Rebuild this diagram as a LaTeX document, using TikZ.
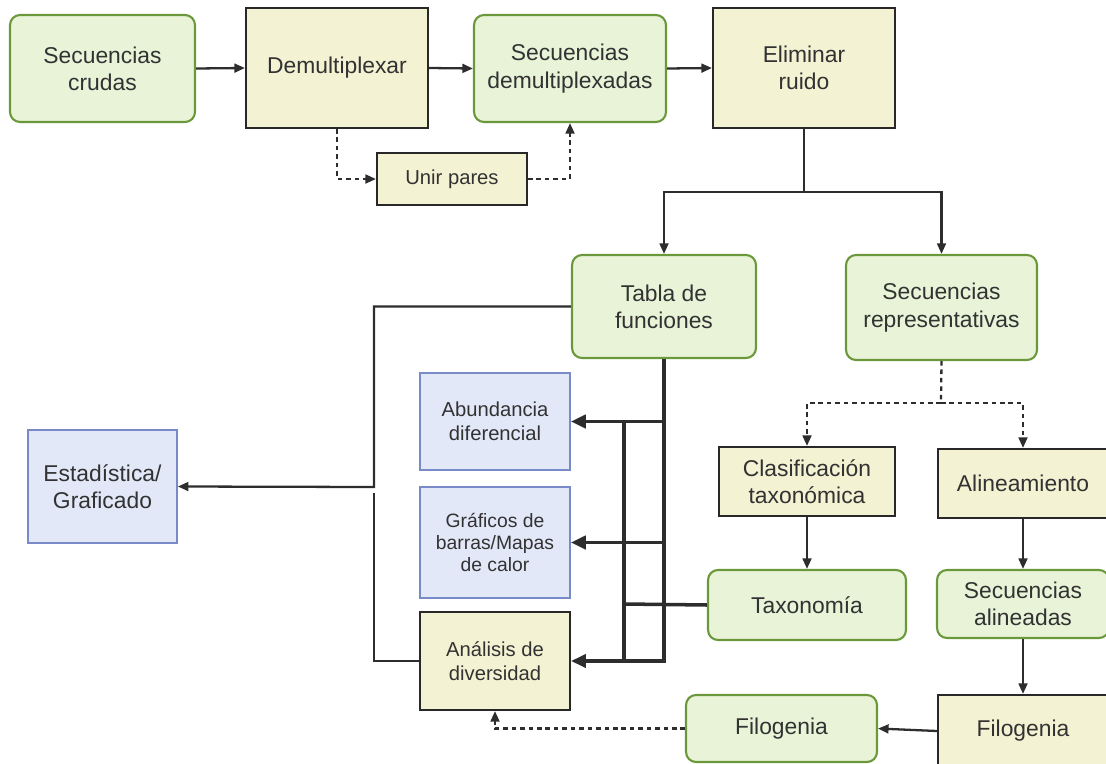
\documentclass[tikz,border=0pt]{standalone}
\usepackage{fontspec}
\setmainfont{Liberation Sans}
\usetikzlibrary{positioning, arrows.meta}
\definecolor{seqfill}{RGB}{232,243,216}
\definecolor{seqedge}{RGB}{106,152,58}
\definecolor{stepfill}{RGB}{243,242,211}
\definecolor{stepedge}{RGB}{40,40,40}
\definecolor{outfill}{RGB}{227,232,248}
\definecolor{outedge}{RGB}{122,138,200}
\definecolor{wire}{RGB}{45,45,45}
\definecolor{ink}{RGB}{50,50,50}
\tikzset{
  sz/.style 2 args={minimum width=#1cm, minimum height=#2cm},
  bigtext/.style={font=\fontsize{13}{15.5}\selectfont},
  smalltext/.style={font=\fontsize{11.5}{13.5}\selectfont},
  seqbox/.style={rectangle, rounded corners=2mm, draw=seqedge, fill=seqfill, line width=1.2pt, align=center, inner sep=2pt, text=ink, bigtext},
  stepbox/.style={rectangle, draw=stepedge, fill=stepfill, line width=1.2pt, align=center, inner sep=2pt, text=ink, bigtext},
  outbox/.style={rectangle, draw=outedge, fill=outfill, line width=1pt, align=center, inner sep=2pt, text=ink, smalltext},
  plain/.style={draw=wire, line width=1.3pt},
  link/.style={plain, -{Triangle[length=6pt,width=5pt]}},
  dashlink/.style={link, dash pattern=on 2.6pt off 2.2pt},
  buslink/.style={draw=wire, line width=2pt},
  busarrow/.style={buslink, -{Triangle[length=8.5pt,width=7.5pt]}},
}
\begin{document}
\begin{tikzpicture}[x=0.02cm, y=-0.02cm]
\useasboundingbox (0,0) rectangle (1106,764);
\clip (0,0) rectangle (1106,764);

% upper row
\node[seqbox, sz={3.7}{2.14}] (crudas) at (102.5,68.5) {Secuencias\\crudas};
\node[stepbox, sz={3.64}{2.4}] (demux) at (337,68) {Demultiplexar};
\node[seqbox, sz={3.84}{2.14}] (demuxseq) at (570,68.5) {Secuencias\\demultiplexadas};
\node[stepbox, sz={3.64}{2.4}] (ruido) at (804,68) {Eliminar\\ruido};
\node[stepbox, smalltext, sz={3.0}{1.04}] (unir) at (452,179) {Unir pares};

% second row
\node[seqbox, sz={3.68}{2.06}] (tabla) at (664,306.5) {Tabla de\\funciones};
\node[seqbox, sz={3.82}{2.1}] (repseq) at (941.5,307.5) {Secuencias\\representativas};

% right side
\node[stepbox, sz={3.52}{1.38}] (clasif) at (807,481.5) {Clasificación\\taxonómica};
\node[stepbox, sz={3.4}{1.38}] (alin) at (1023,483.5) {Alineamiento};
\node[seqbox, sz={3.96}{1.4}] (taxo) at (807,605) {Taxonomía};
\node[seqbox, sz={3.44}{1.36}] (alinseq) at (1023,604) {Secuencias\\alineadas};
\node[stepbox, sz={3.4}{1.44}] (filoarbol) at (1023,731) {Filogenia};
\node[seqbox, sz={3.82}{1.34}] (filo) at (781.5,728.5) {Filogenia};

% left side
\node[outbox, sz={3.0}{1.94}] (abund) at (495,421.5) {Abundancia\\diferencial};
\node[outbox, font=\fontsize{11}{12.4}\selectfont, sz={3.0}{2.22}] (graf) at (495,542.5) {Gráficos de\\barras/Mapas\\de calor};
\node[stepbox, smalltext, sz={3.0}{1.96}] (anal) at (495,661) {Análisis de\\diversidad};
\node[outbox, bigtext, sz={2.98}{2.26}] (estad) at (102.5,486.5) {Estadística/\\Graficado};

\coordinate (split) at (804,192);
\coordinate (repsplit) at (941,403);
\coordinate (merge) at (374,487);
\coordinate (tx) at (624,604);

% connectors
\draw[link] (crudas.east) -- (demux.west);
\draw[link] (demux.east) -- (demuxseq.west);
\draw[link] (demuxseq.east) -- (ruido.west);
\draw[dashlink] (demux.south) |- (unir.west);
\draw[dashlink] (unir.east) -| (demuxseq.south);
\draw[plain] (ruido.south) -- (split);
\draw[link] (split) -| (tabla.north);
\draw[link] (split) -| (repseq.north);
\draw[dashlink, -] (repseq.south) -- (repsplit);
\draw[dashlink] (repsplit) -| (clasif.north);
\draw[dashlink] (repsplit) -| (alin.north);
\draw[link] (clasif.south) -- (taxo.north);
\draw[link] (alin.south) -- (alinseq.north);
\draw[link] (alinseq.south) -- (filoarbol.north);
\draw[link] (filoarbol.west) -- (filo.east);
\draw[dashlink] (filo.west) -| (anal.south);

% tabla de funciones
\draw[link] (tabla.west) -| (merge) -- (estad.east);
\draw[plain] (anal.west) -| ([yshift=-0.12cm]merge);
\draw[busarrow] (tabla.south) -- (tabla.south |- anal.east) -- (anal.east);
\draw[busarrow] (tabla.south |- abund.east) -- (abund.east);
\draw[busarrow] (tabla.south |- graf.east) -- (graf.east);
\draw[buslink] (abund.east -| tx) -- (anal.east -| tx);
\draw[buslink] (taxo.west) -- (tx);
\end{tikzpicture}
\end{document}
